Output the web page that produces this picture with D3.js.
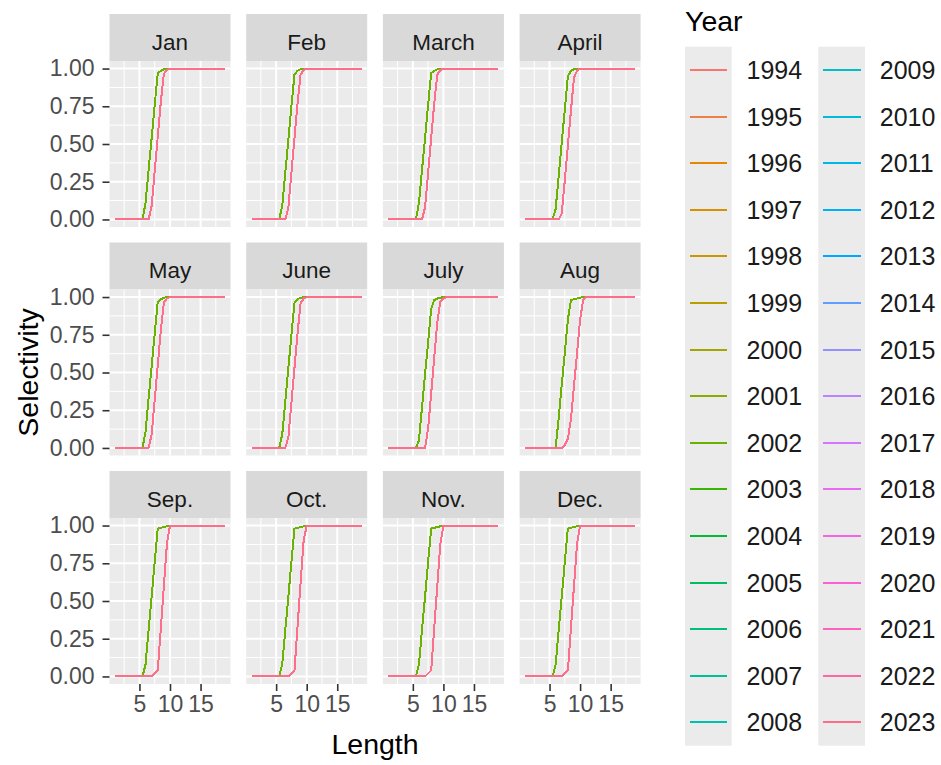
<!DOCTYPE html>
<html>
<head>
<meta charset="utf-8">
<script src="https://cdn.jsdelivr.net/npm/d3@7"></script>
<style>
  body { margin: 0; background: #fff; }
  svg { display: block; font-family: "Liberation Sans", Arial, sans-serif; }
</style>
</head>
<body>
<svg id="chart" width="941" height="765"></svg>
<script>
// facet labels, in panel order
const months = ['Jan', 'Feb', 'March', 'April', 'May', 'June',
  'July', 'Aug', 'Sep.', 'Oct.', 'Nov.', 'Dec.'];

const years = [1994, 1995, 1996, 1997, 1998, 1999, 2000, 2001, 2002, 2003,
  2004, 2005, 2006, 2007, 2008, 2009, 2010, 2011, 2012, 2013,
  2014, 2015, 2016, 2017, 2018, 2019, 2020, 2021, 2022, 2023];

// last year that still uses the early selectivity curve
const lastEarlyYear = 2002;

// length classes the curves are given at
const lengths = [1, 5, 5.5, 6, 6.5, 7, 7.5, 8, 8.5, 9, 9.5, 10, 10.5, 11, 19];

// selectivity at each length, one row per month
const selEarly = [
  [0, 0, 0, 0.11, 0.33, 0.54, 0.76, 0.97, 0.985, 0.995, 1, 1, 1, 1, 1],
  [0, 0, 0, 0.09, 0.31, 0.53, 0.75, 0.96, 0.985, 0.995, 1, 1, 1, 1, 1],
  [0, 0, 0, 0.11, 0.33, 0.54, 0.76, 0.97, 0.985, 0.995, 1, 1, 1, 1, 1],
  [0, 0, 0, 0.07, 0.29, 0.51, 0.73, 0.95, 0.985, 0.995, 1, 1, 1, 1, 1],
  [0, 0, 0, 0.11, 0.33, 0.54, 0.76, 0.97, 0.985, 0.995, 1, 1, 1, 1, 1],
  [0, 0, 0, 0.09, 0.31, 0.53, 0.75, 0.96, 0.985, 0.995, 1, 1, 1, 1, 1],
  [0, 0, 0, 0.05, 0.27, 0.49, 0.70, 0.92, 0.98, 0.99, 0.995, 1, 1, 1, 1],
  [0, 0, 0, 0, 0.20, 0.42, 0.63, 0.85, 0.98, 0.985, 0.99, 0.995, 1, 1, 1],
  [0, 0, 0, 0.08, 0.31, 0.53, 0.76, 0.98, 0.985, 0.99, 0.995, 1, 1, 1, 1],
  [0, 0, 0, 0.08, 0.31, 0.53, 0.76, 0.98, 0.985, 0.99, 0.995, 1, 1, 1, 1],
  [0, 0, 0, 0.08, 0.31, 0.53, 0.76, 0.98, 0.985, 0.99, 0.995, 1, 1, 1, 1],
  [0, 0, 0, 0.08, 0.31, 0.53, 0.76, 0.98, 0.985, 0.99, 0.995, 1, 1, 1, 1]
];

const selLate = [
  [0, 0, 0, 0, 0, 0.09, 0.32, 0.55, 0.78, 0.965, 0.99, 1, 1, 1, 1],
  [0, 0, 0, 0, 0, 0.08, 0.31, 0.54, 0.77, 0.96, 0.99, 1, 1, 1, 1],
  [0, 0, 0, 0, 0, 0.08, 0.31, 0.54, 0.77, 0.96, 0.99, 1, 1, 1, 1],
  [0, 0, 0, 0, 0, 0.04, 0.26, 0.49, 0.72, 0.94, 0.985, 1, 1, 1, 1],
  [0, 0, 0, 0, 0, 0.09, 0.32, 0.55, 0.78, 0.965, 0.99, 1, 1, 1, 1],
  [0, 0, 0, 0, 0, 0.07, 0.30, 0.53, 0.76, 0.96, 0.99, 1, 1, 1, 1],
  [0, 0, 0, 0, 0, 0, 0.13, 0.36, 0.60, 0.83, 0.97, 0.99, 1, 1, 1],
  [0, 0, 0, 0, 0, 0, 0.02, 0.06, 0.19, 0.41, 0.63, 0.85, 0.98, 1, 1],
  [0, 0, 0, 0, 0, 0, 0.02, 0.04, 0.32, 0.60, 0.88, 1, 1, 1, 1],
  [0, 0, 0, 0, 0, 0, 0.02, 0.04, 0.33, 0.62, 0.90, 1, 1, 1, 1],
  [0, 0, 0, 0, 0, 0, 0.02, 0.04, 0.32, 0.60, 0.88, 1, 1, 1, 1],
  [0, 0, 0, 0, 0, 0, 0.02, 0.04, 0.32, 0.60, 0.88, 1, 1, 1, 1]
];

const xTicks = [5, 10, 15];
const yTicks = [0, 0.25, 0.5, 0.75, 1];


/**
 * ggplot style hcl() colour (polar LUV) to a hex string
 */
function hclToHex(h, c, l) {
  const hr = h * Math.PI / 180;
  const U = c * Math.cos(hr);
  const V = c * Math.sin(hr);
  const Xn = 95.047, Yn = 100, Zn = 108.883;
  const Y = l > 8 ? Yn * Math.pow((l + 16) / 116, 3) : Yn * l / 903.3;
  const t = Xn + 15 * Yn + 3 * Zn;
  const u = U / (13 * l) + 4 * Xn / t;
  const v = V / (13 * l) + 9 * Yn / t;
  const X = 9 * Y * u / (4 * v);
  const Z = -X / 3 - 5 * Y + 3 * Y / v;
  const x = X / 100, y = Y / 100, z = Z / 100;
  const lin = [
    3.240479 * x - 1.537150 * y - 0.498535 * z,
    -0.969256 * x + 1.875992 * y + 0.041556 * z,
    0.055648 * x - 0.204043 * y + 1.057311 * z
  ];
  const rgb = lin.map((ch) => {
    const g = ch <= 0.0031308 ? 12.92 * ch : 1.055 * Math.pow(ch, 1 / 2.4) - 0.055;
    return Math.round(Math.max(0, Math.min(1, g)) * 255);
  });
  return d3.rgb(rgb[0], rgb[1], rgb[2]).formatHex();
}

// default discrete hue palette
const yearColor = d3.scaleOrdinal()
  .domain(years)
  .range(years.map((yr, i) => hclToHex(15 + 360 * i / years.length, 100, 65)));


const svg = d3.select('#chart');
svg.append('rect').attr('width', 941).attr('height', 765).attr('fill', '#fff');

// facet geometry
const panelW = 121;
const panelH = 166;
const stripH = 47;
const colX = [109.5, 246.2, 382.9, 519.6];
const rowY = [14, 242.5, 471];

const x = d3.scaleLinear().domain([0.1, 19.9]).range([0, panelW]);
const y = d3.scaleLinear().domain([-0.05, 1.05]).range([panelH, 0]);

const line = d3.line()
  .x((d) => x(d.len))
  .y((d) => y(d.sel));

months.forEach((month, m) => {
  const col = m % 4;
  const row = Math.floor(m / 4);
  const left = colX[col];
  const top = rowY[row];

  // strip
  const strip = svg.append('g').attr('transform', `translate(${left},${top})`);
  strip.append('rect')
    .attr('width', panelW)
    .attr('height', stripH)
    .attr('fill', '#d9d9d9');
  strip.append('text')
    .attr('x', panelW / 2)
    .attr('y', stripH / 2 + 12)
    .attr('text-anchor', 'middle')
    .attr('font-size', 22.5)
    .attr('fill', '#1a1a1a')
    .text(month);

  const g = svg.append('g').attr('transform', `translate(${left},${top + stripH})`);
  g.append('rect')
    .attr('width', panelW)
    .attr('height', panelH)
    .attr('fill', '#ebebeb');

  // minor grid
  const xMinor = [2.5, 7.5, 12.5, 17.5];
  const yMinor = [0.125, 0.375, 0.625, 0.875];
  g.selectAll('.xminor').data(xMinor).join('line')
    .attr('x1', (d) => x(d)).attr('x2', (d) => x(d))
    .attr('y1', 0).attr('y2', panelH)
    .attr('stroke', '#fff').attr('stroke-width', 1);
  g.selectAll('.yminor').data(yMinor).join('line')
    .attr('y1', (d) => y(d)).attr('y2', (d) => y(d))
    .attr('x1', 0).attr('x2', panelW)
    .attr('stroke', '#fff').attr('stroke-width', 1);

  // major grid
  g.selectAll('.xmajor').data(xTicks).join('line')
    .attr('x1', (d) => x(d)).attr('x2', (d) => x(d))
    .attr('y1', 0).attr('y2', panelH)
    .attr('stroke', '#fff').attr('stroke-width', 2);
  g.selectAll('.ymajor').data(yTicks).join('line')
    .attr('y1', (d) => y(d)).attr('y2', (d) => y(d))
    .attr('x1', 0).attr('x2', panelW)
    .attr('stroke', '#fff').attr('stroke-width', 2);

  // one line per year, drawn in year order (later years on top)
  years.forEach((yr) => {
    const vals = yr <= lastEarlyYear ? selEarly[m] : selLate[m];
    const pts = lengths.map((len, i) => ({len: len, sel: vals[i]}));
    g.append('path')
      .datum(pts)
      .attr('fill', 'none')
      .attr('stroke', yearColor(yr))
      .attr('stroke-width', 2)
      .attr('shape-rendering', 'crispEdges')
      .attr('d', line);
  });

  // y axis on the first column
  if (col === 0) {
    const yAxis = d3.axisLeft(y).tickValues(yTicks).tickSize(7).tickPadding(8)
      .tickFormat(d3.format('.2f'));
    const ax = g.append('g').call(yAxis);
    ax.select('.domain').remove();
    ax.selectAll('.tick line').attr('stroke', '#333').attr('stroke-width', 1.6);
    ax.selectAll('.tick text')
      .attr('fill', '#4d4d4d')
      .attr('font-size', 23)
      .attr('font-family', '"Liberation Sans", Arial, sans-serif');
  }

  // x axis on the bottom row
  if (row === 2) {
    const xAxis = d3.axisBottom(x).tickValues(xTicks).tickSize(7).tickPadding(5);
    const ax = g.append('g').attr('transform', `translate(0,${panelH})`).call(xAxis);
    ax.select('.domain').remove();
    ax.selectAll('.tick line').attr('stroke', '#333').attr('stroke-width', 1.6);
    ax.selectAll('.tick text')
      .attr('fill', '#4d4d4d')
      .attr('font-size', 23)
      .attr('font-family', '"Liberation Sans", Arial, sans-serif');
  }
});

// axis titles
svg.append('text')
  .attr('x', (colX[0] + colX[3] + panelW) / 2)
  .attr('y', 754)
  .attr('text-anchor', 'middle')
  .attr('font-size', 28.5)
  .text('Length');

svg.append('text')
  .attr('transform', `translate(38,${rowY[0] + stripH + (rowY[2] + panelH - rowY[0]) / 2}) rotate(-90)`)
  .attr('text-anchor', 'middle')
  .attr('font-size', 28.5)
  .text('Selectivity');

// legend
const legend = svg.append('g');
legend.append('text')
  .attr('x', 685)
  .attr('y', 31)
  .attr('font-size', 28.5)
  .text('Year');

const keyW = 46.7;
const keyH = 46.6;
const legendTop = 46.7;
const legendCols = [685, 818.3];
const perCol = 15;

legendCols.forEach((lx) => {
  legend.append('rect')
    .attr('x', lx)
    .attr('y', legendTop)
    .attr('width', keyW)
    .attr('height', keyH * perCol)
    .attr('fill', '#ebebeb');
});

years.forEach((yr, i) => {
  const lx = legendCols[Math.floor(i / perCol)];
  const ly = Math.round(legendTop + (i % perCol) * keyH + keyH / 2);
  legend.append('line')
    .attr('x1', lx + 4.5).attr('x2', lx + keyW - 4.5)
    .attr('y1', ly).attr('y2', ly)
    .attr('stroke', yearColor(yr))
    .attr('stroke-width', 2)
    .attr('shape-rendering', 'crispEdges');
  legend.append('text')
    .attr('x', lx + 61.5)
    .attr('y', ly + 9)
    .attr('font-size', 25)
    .attr('fill', '#1a1a1a')
    .text(yr);
});
</script>
</body>
</html>
